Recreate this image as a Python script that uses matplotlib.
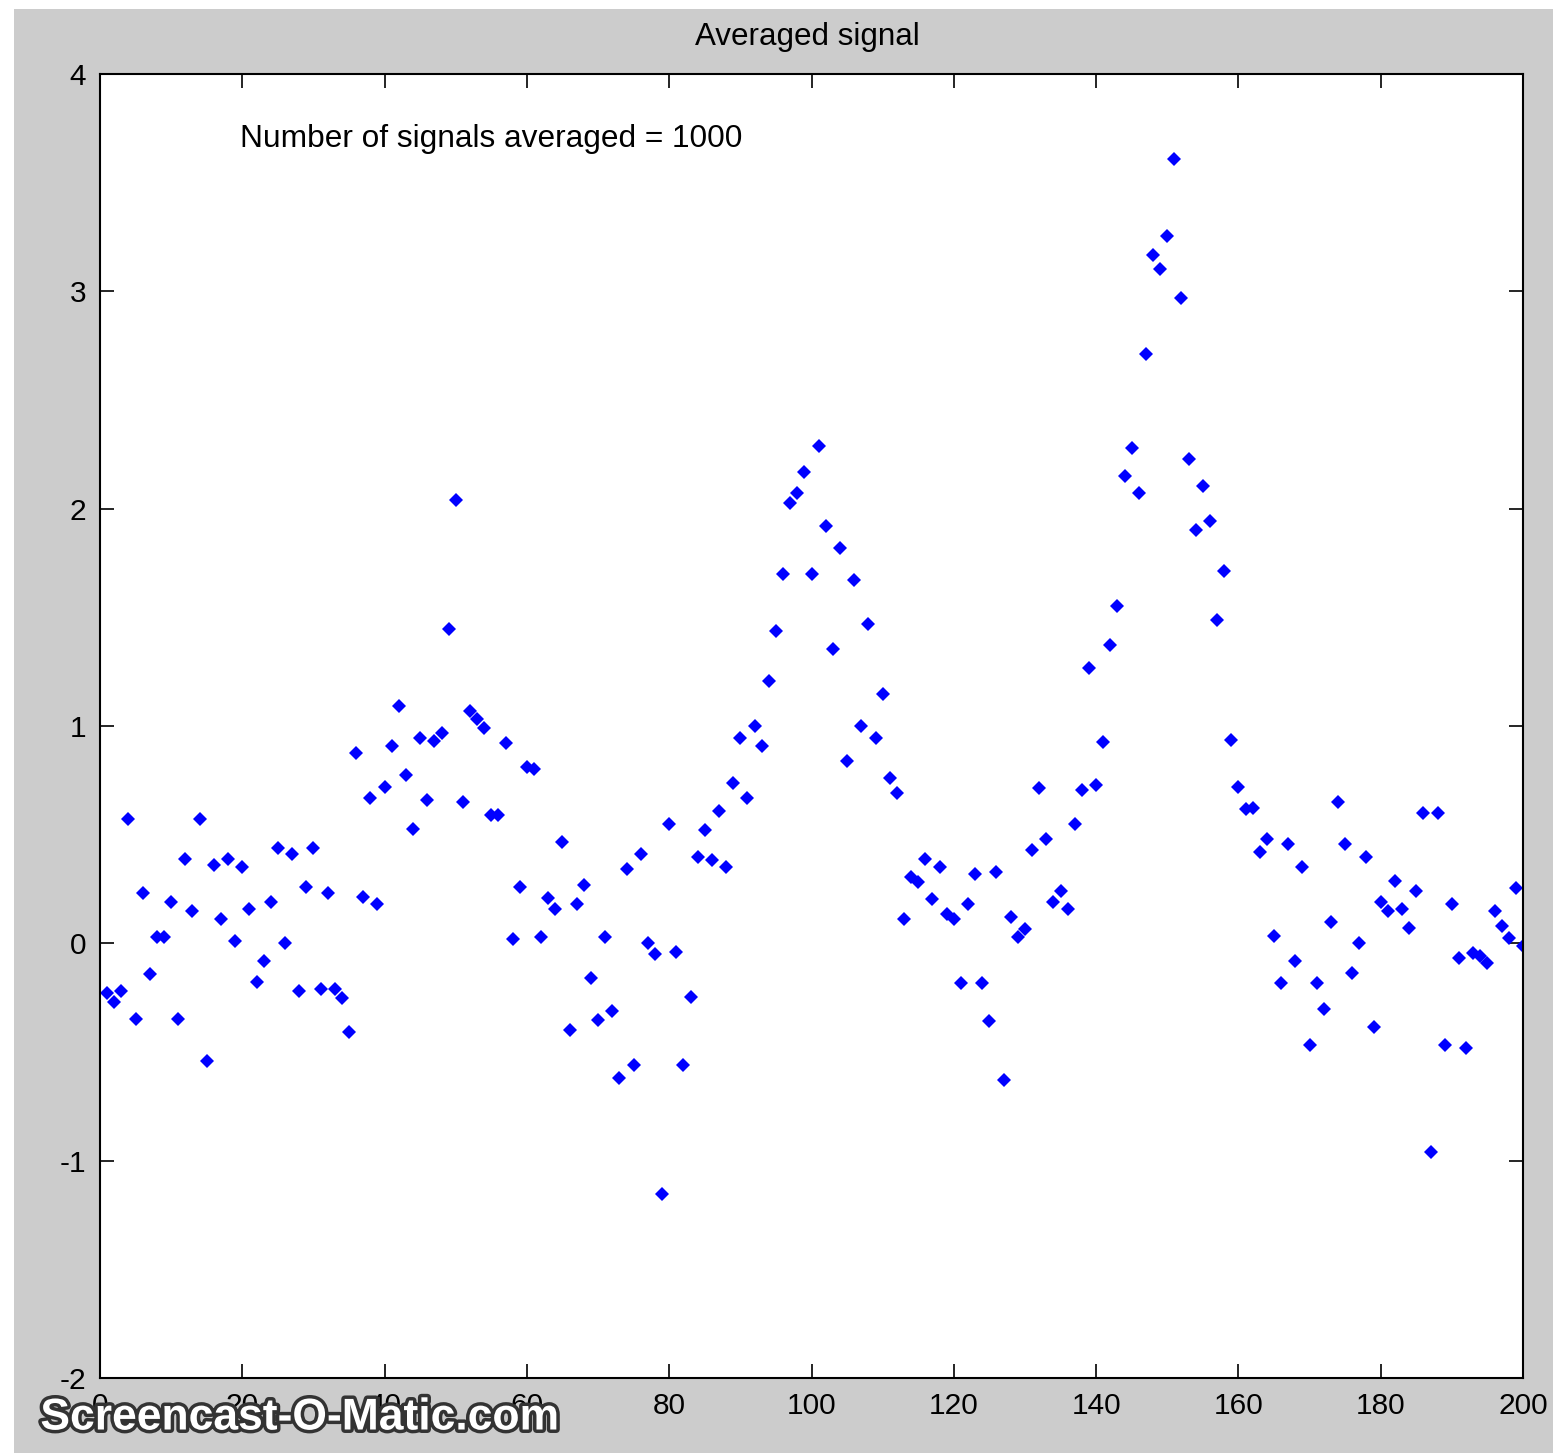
import numpy as np
import matplotlib.pyplot as plt
import matplotlib.patheffects as pe
from matplotlib.patches import Rectangle

# sample index and averaged signal values
n = np.arange(1, 201)
avg_signal = [
    -0.23, -0.27, -0.22, 0.57, -0.35, 0.23, -0.14, 0.03, 0.03, 0.19,
    -0.35, 0.39, 0.15, 0.57, -0.54, 0.36, 0.11, 0.39, 0.01, 0.35,
    0.16, -0.18, -0.08, 0.19, 0.44, 0.00, 0.41, -0.22, 0.26, 0.44,
    -0.21, 0.23, -0.21, -0.25, -0.41, 0.875, 0.215, 0.67, 0.18, 0.72,
    0.91, 1.09, 0.775, 0.525, 0.945, 0.66, 0.93, 0.97, 1.445, 2.04,
    0.65, 1.07, 1.03, 0.99, 0.59, 0.59, 0.92, 0.02, 0.26, 0.81,
    0.80, 0.03, 0.21, 0.16, 0.465, -0.40, 0.18, 0.27, -0.16, -0.355,
    0.03, -0.31, -0.62, 0.34, -0.56, 0.41, 0.00, -0.05, -1.155, 0.55,
    -0.04, -0.56, -0.245, 0.395, 0.52, 0.385, 0.61, 0.35, 0.74, 0.945,
    0.67, 1.00, 0.91, 1.205, 1.435, 1.70, 2.025, 2.07, 2.17, 1.70,
    2.29, 1.92, 1.353, 1.82, 0.84, 1.672, 1.00, 1.468, 0.944, 1.148,
    0.76, 0.692, 0.112, 0.305, 0.282, 0.387, 0.204, 0.352, 0.137, 0.113,
    -0.184, 0.18, 0.318, -0.184, -0.356, 0.33, -0.627, 0.123, 0.031, 0.068,
    0.43, 0.716, 0.478, 0.191, 0.239, 0.157, 0.55, 0.705, 1.265, 0.727,
    0.925, 1.375, 1.55, 2.15, 2.28, 2.07, 2.71, 3.165, 3.105, 3.256,
    3.61, 2.97, 2.23, 1.90, 2.105, 1.945, 1.49, 1.715, 0.935, 0.72,
    0.62, 0.625, 0.42, 0.48, 0.032, -0.184, 0.455, -0.083, 0.35, -0.47,
    -0.184, -0.30, 0.10, 0.65, 0.455, -0.138, 0.00, 0.395, -0.386, 0.19,
    0.147, 0.285, 0.157, 0.069, 0.24, 0.60, -0.96, 0.60, -0.47, 0.18,
    -0.069, -0.48, -0.046, -0.06, -0.092, 0.147, 0.078, 0.023, 0.253, -0.014,
]
n_avg = 1000
xticks = list(range(0, 201, 20))
yticks = [-2, -1, 0, 1, 2, 3, 4]

plt.rcParams['font.family'] = ['Liberation Sans', 'DejaVu Sans']
plt.rcParams['axes.unicode_minus'] = False

fig = plt.figure(figsize=(15.53, 14.53), dpi=100, facecolor='#cccccc')
# white screenshot margin on the left and top
fig.patches.append(Rectangle((0, 0), 14 / 1553, 1, transform=fig.transFigure,
                             facecolor='white', edgecolor='none', zorder=-1))
fig.patches.append(Rectangle((0, 1 - 9 / 1453), 1, 9 / 1453, transform=fig.transFigure,
                             facecolor='white', edgecolor='none', zorder=-1))

ax = fig.add_axes([100 / 1553, 75 / 1453, 1423 / 1553, 1304 / 1453])
ax.set_facecolor('white')
ax.plot(n, avg_signal, 'D', color='#0000ff', markersize=7.5, markeredgewidth=0)

ax.set_xlim(0, 200)
ax.set_ylim(-2, 4)
ax.set_xticks(xticks)
ax.set_yticks(yticks)
ax.tick_params(direction='in', length=10, width=1.2, labelsize=21.5,
               top=True, right=True, pad=10)
for s in ax.spines.values():
    s.set_linewidth(1.5)
    s.set_color('black')

ax.text(19.7, 3.70, 'Number of signals averaged = %d' % n_avg, fontsize=22.8,
        ha='left', va='center')
fig.text(807 / 1553, 1 - 37 / 1453, 'Averaged signal', fontsize=22.6,
         ha='center', va='center')

# screen recorder watermark
fig.text(300 / 1553, 1 - 1418 / 1453, 'Screencast-O-Matic.com', fontsize=32,
         fontweight='bold', color='white', ha='center', va='center',
         path_effects=[pe.withStroke(linewidth=5, foreground='#333333')])

plt.savefig('out.png', dpi=100, facecolor=fig.get_facecolor())
